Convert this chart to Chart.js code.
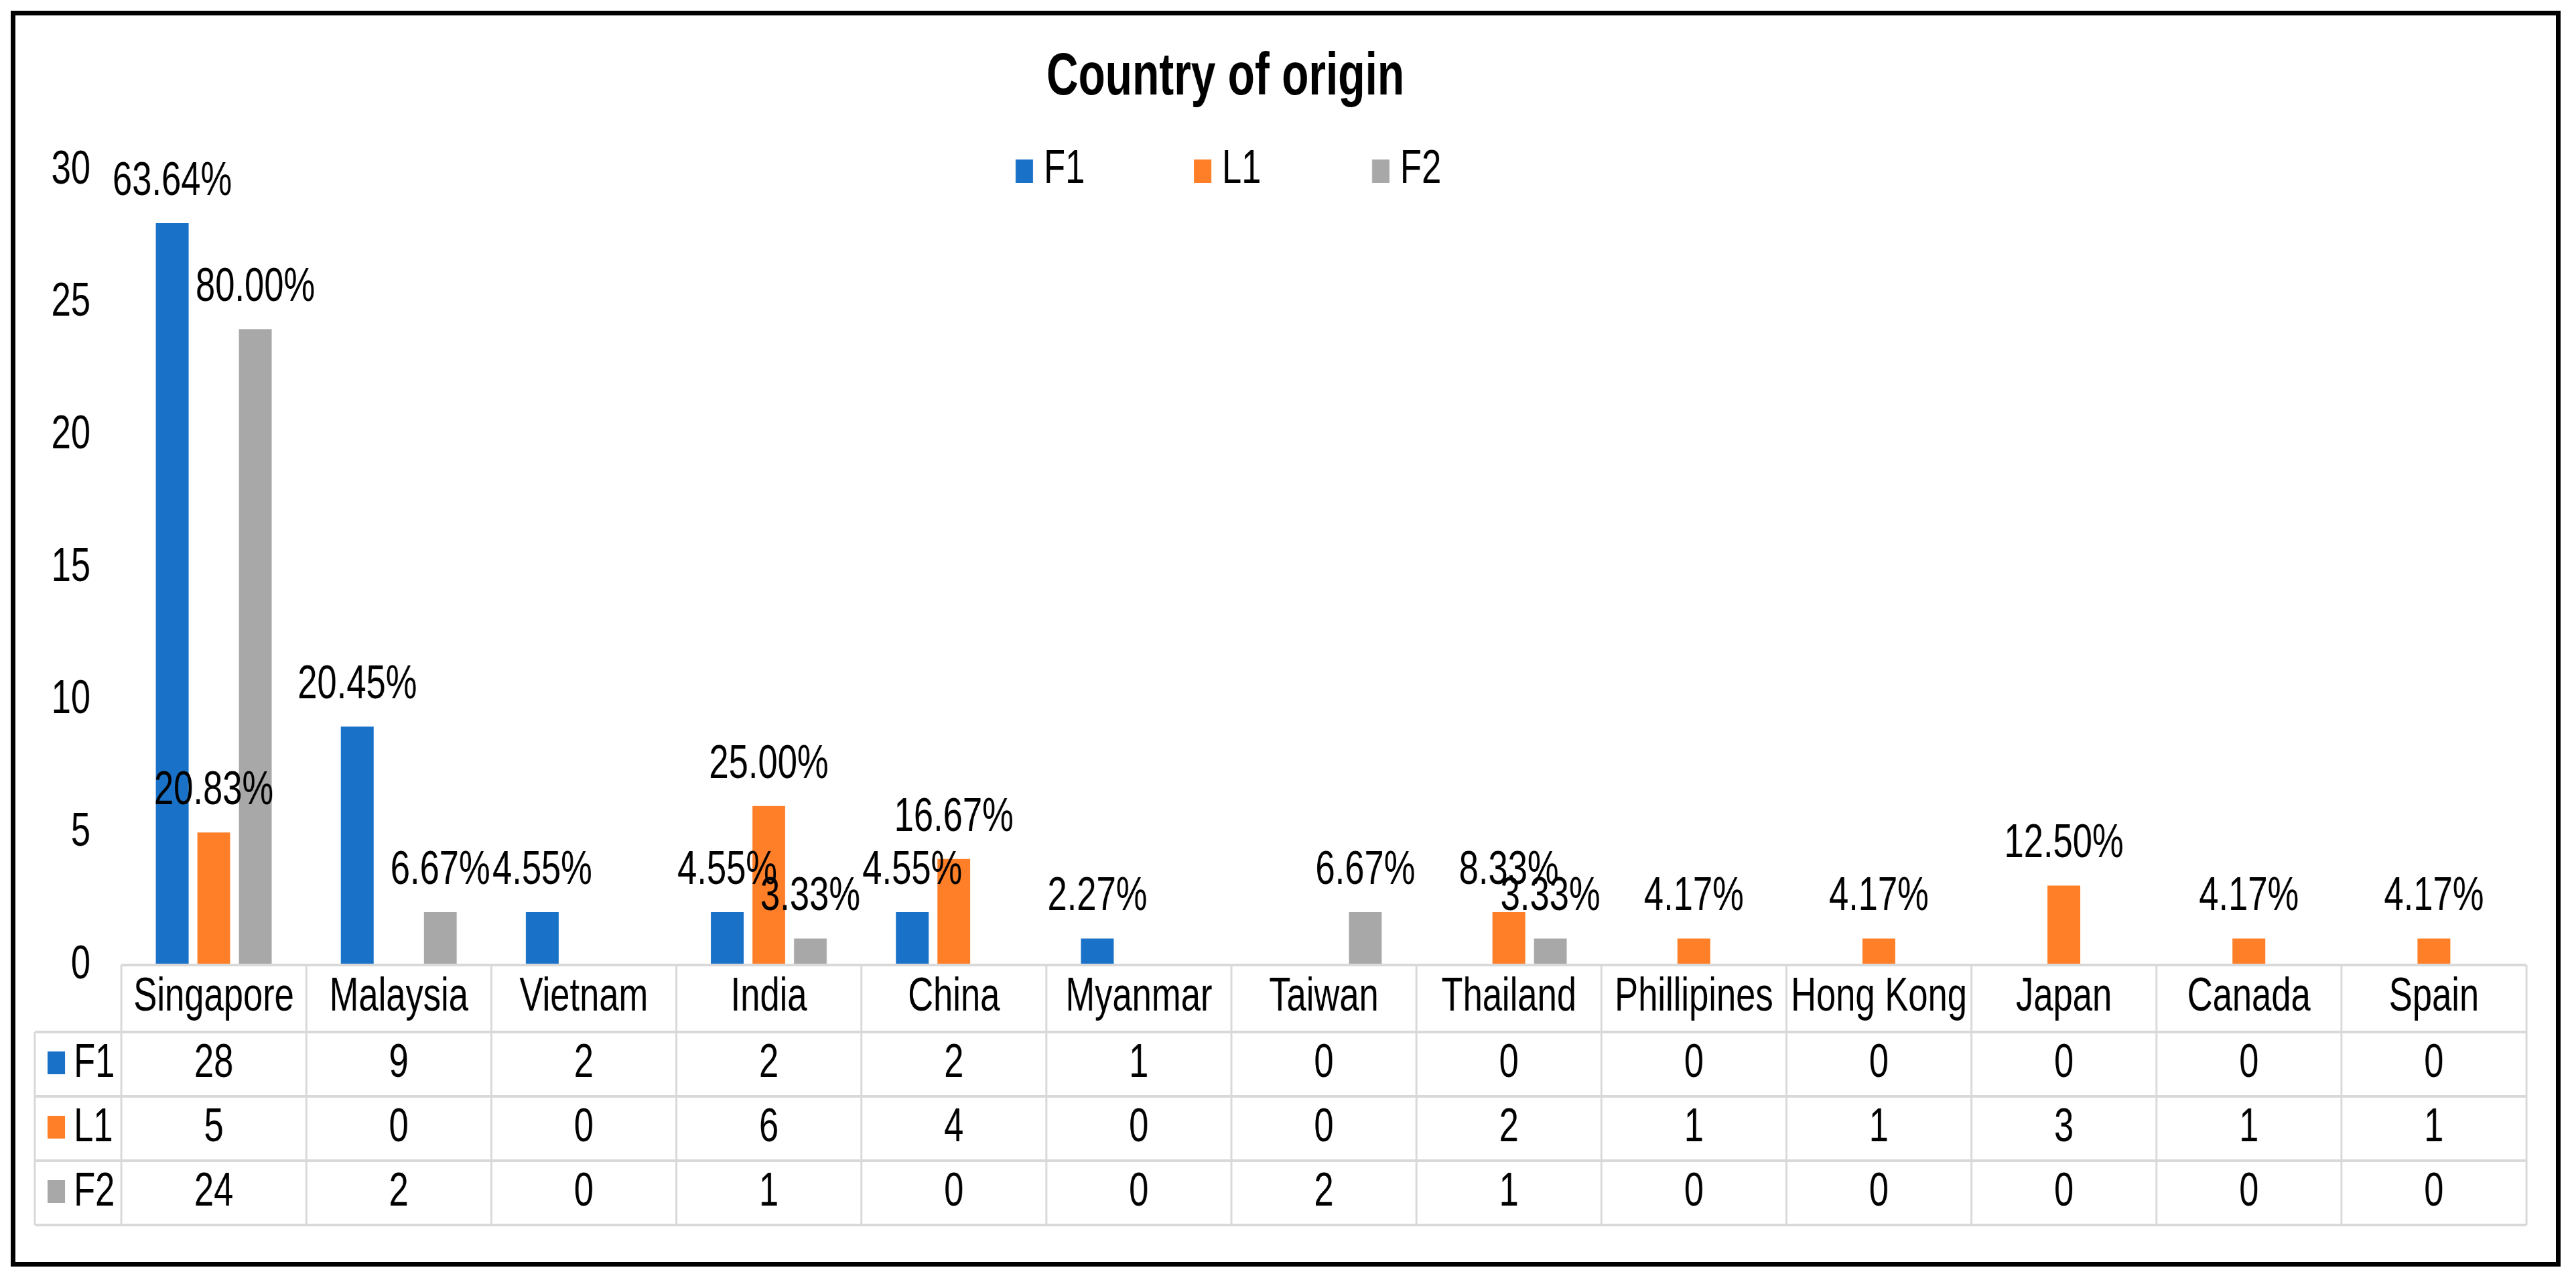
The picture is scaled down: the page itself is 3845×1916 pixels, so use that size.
<!DOCTYPE html>
<html>
<head>
<meta charset="utf-8">
<title>Country of origin</title>
<script src="https://cdn.jsdelivr.net/npm/chart.js@4.4.1/dist/chart.umd.min.js"></script>
<style>
    html, body { margin: 0; padding: 0; background: #fff; overflow: hidden; }
    #frame {
        position: absolute; left: 16px; top: 16px;
        width: 3806px; height: 1874px;
        box-sizing: border-box; border: 7px solid #000;
        z-index: 2; pointer-events: none;
    }
    /* the original picture is squashed sideways, so the canvas is drawn wider and scaled back */
    #wrap { position: absolute; left: 0; top: 0; transform-origin: 0 0; }
</style>
</head>
<body>
<div id="frame"></div>
<div id="wrap"><canvas id="originChart"></canvas></div>
<script>
// Data
const categories = ['Singapore', 'Malaysia', 'Vietnam', 'India', 'China', 'Myanmar', 'Taiwan',
    'Thailand', 'Phillipines', 'Hong Kong', 'Japan', 'Canada', 'Spain'];
const seriesNames = ['F1', 'L1', 'F2'];
const f1Values = [28, 9, 2, 2, 2, 1, 0, 0, 0, 0, 0, 0, 0];
const l1Values = [5, 0, 0, 6, 4, 0, 0, 2, 1, 1, 3, 1, 1];
const f2Values = [24, 2, 0, 1, 0, 0, 2, 1, 0, 0, 0, 0, 0];
const f1Labels = ['63.64%', '20.45%', '4.55%', '4.55%', '4.55%', '2.27%', null, null, null, null, null, null, null];
const l1Labels = ['20.83%', null, null, '25.00%', '16.67%', null, null, '8.33%', '4.17%', '4.17%', '12.50%', '4.17%', '4.17%'];
const f2Labels = ['80.00%', '6.67%', null, '3.33%', null, null, '6.67%', '3.33%', null, null, null, null, null];
const yMax = 30;
const yStep = 5;

const seriesColors = ['#1a72c8', '#fe7f28', '#a8a8a8'];
const FONT = "'Liberation Sans', Arial, sans-serif";
const FONT_SIZE = 71;

// horizontal squash factor and canvas size
const S = 0.74;
const W = 3845, H = 1916;
const CW = Math.round(W / S);
const px = x => x / S; // screen x -> canvas x

const wrap = document.getElementById('wrap');
wrap.style.transform = `scaleX(${S})`;
const canvas = document.getElementById('originChart');
canvas.width = CW;
canvas.height = H;

const PLOT_LEFT = px(181);
const PLOT_RIGHT = px(3771);
const PLOT_TOP = 254;
const PLOT_BOTTOM = 1440;

const originPlugin = {
    id: 'originPlugin',
    afterLayout(chart) {
        // centre the title where the reference has it
        const t = chart.titleBlock;
        if (t) {
            const dx = px(1829) - (t.left + t.right) / 2;
            t.left += dx;
            t.right += dx;
        }
    },
    afterDatasetsDraw(chart) {
        const ctx = chart.ctx;
        const allLabels = [f1Labels, l1Labels, f2Labels];
        ctx.save();
        ctx.font = `${FONT_SIZE}px ${FONT}`;
        ctx.fillStyle = '#000';
        ctx.textAlign = 'center';
        ctx.textBaseline = 'alphabetic';
        chart.data.datasets.forEach((ds, di) => {
            const meta = chart.getDatasetMeta(di);
            meta.data.forEach((bar, i) => {
                const label = allLabels[di][i];
                if (!label) return;
                ctx.fillText(label, bar.x, bar.y - 42);
            });
        });
        ctx.restore();
    },
    afterDraw(chart) {
        const ctx = chart.ctx;
        const area = chart.chartArea;
        const xScale = chart.scales.x;
        const colW = (area.right - area.left) / categories.length;
        const rows = [PLOT_BOTTOM, 1540, 1636, 1732, 1828];
        const keyLeft = px(52);

        ctx.save();
        ctx.strokeStyle = '#d9d9d9';
        ctx.lineWidth = 4;
        ctx.beginPath();
        // horizontal lines
        ctx.moveTo(area.left, rows[0]);
        ctx.lineTo(area.right, rows[0]);
        for (let r = 1; r < rows.length; r++) {
            ctx.moveTo(keyLeft, rows[r]);
            ctx.lineTo(area.right, rows[r]);
        }
        // vertical lines
        ctx.moveTo(keyLeft, rows[1]);
        ctx.lineTo(keyLeft, rows[4]);
        for (let c = 0; c <= categories.length; c++) {
            const x = area.left + c * colW;
            ctx.moveTo(x, rows[0]);
            ctx.lineTo(x, rows[4]);
        }
        ctx.stroke();

        ctx.font = `${FONT_SIZE}px ${FONT}`;
        ctx.fillStyle = '#000';
        ctx.textBaseline = 'alphabetic';
        ctx.textAlign = 'center';
        // category row
        categories.forEach((name, i) => {
            const cx = xScale.getPixelForValue(i);
            ctx.fillText(name, cx, (rows[0] + rows[1]) / 2 + 18);
        });
        // value rows
        chart.data.datasets.forEach((ds, di) => {
            const mid = (rows[di + 1] + rows[di + 2]) / 2;
            ds.data.forEach((v, i) => {
                ctx.fillText(String(v), xScale.getPixelForValue(i), mid + 19);
            });
            // legend key
            ctx.fillStyle = ds.backgroundColor;
            ctx.fillRect(px(71), mid - 19, px(97) - px(71), 34);
            ctx.fillStyle = '#000';
            ctx.textAlign = 'left';
            ctx.fillText(ds.label, px(110), mid + 19);
            ctx.textAlign = 'center';
        });

        // legend under the title
        ctx.textAlign = 'left';
        chart.data.datasets.forEach((ds, di) => {
            const left = px(1516) + di * px(266);
            ctx.fillStyle = ds.backgroundColor;
            ctx.fillRect(left, 238, px(26), 35);
            ctx.fillStyle = '#000';
            ctx.fillText(ds.label, left + px(42), 273);
        });
        ctx.restore();
    }
};

const chart = new Chart(canvas.getContext('2d'), {
    type: 'bar',
    data: {
        labels: categories,
        datasets: [
            { label: seriesNames[0], data: f1Values, backgroundColor: seriesColors[0] },
            { label: seriesNames[1], data: l1Values, backgroundColor: seriesColors[1] },
            { label: seriesNames[2], data: f2Values, backgroundColor: seriesColors[2] }
        ]
    },
    options: {
        responsive: false,
        devicePixelRatio: 1,
        animation: false,
        categoryPercentage: 0.673,
        barPercentage: 0.79,
        layout: { padding: { left: 0, right: CW - PLOT_RIGHT, top: 0, bottom: 0 } },
        plugins: {
            legend: { display: false },
            tooltip: { enabled: false },
            title: {
                display: true,
                text: 'Country of origin',
                color: '#000',
                font: { family: FONT, size: 89, weight: 'bold' },
                padding: { top: 63, bottom: PLOT_TOP - 63 - 89 * 1.2 }
            }
        },
        scales: {
            x: {
                grid: { display: false },
                border: { display: false },
                ticks: { display: false },
                afterFit(scale) { scale.height = H - PLOT_BOTTOM; }
            },
            y: {
                min: 0,
                max: yMax,
                grid: { display: false, drawTicks: false },
                border: { display: false },
                ticks: {
                    stepSize: yStep,
                    padding: PLOT_LEFT - px(135),
                    color: '#000',
                    font: { family: FONT, size: FONT_SIZE }
                },
                afterFit(scale) { scale.width = PLOT_LEFT; }
            }
        }
    },
    plugins: [originPlugin]
});
</script>
</body>
</html>
